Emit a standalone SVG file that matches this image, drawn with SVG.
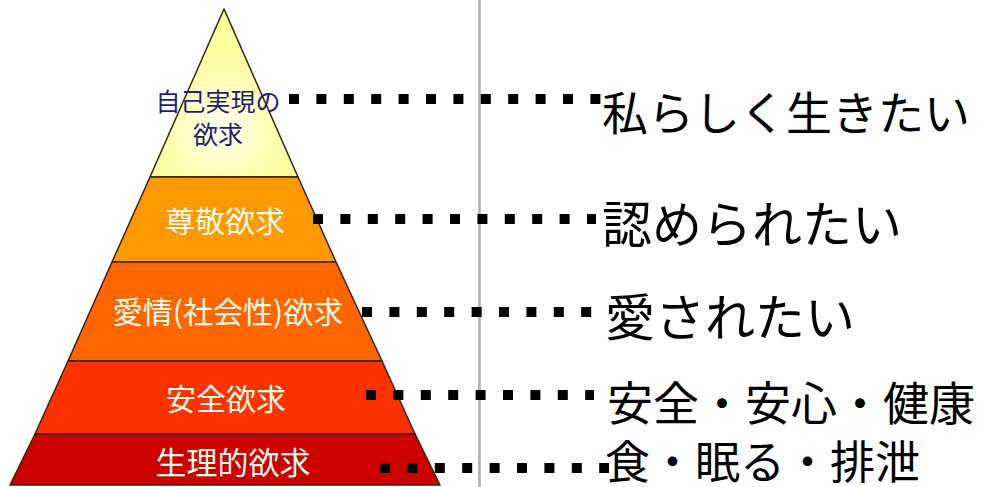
<svg xmlns="http://www.w3.org/2000/svg" width="988" height="487" viewBox="0 0 988 487">
<style>
.tier{stroke:#3a2208;stroke-width:1.5;stroke-linejoin:round}
.lbl{font-family:"Noto Sans CJK JP","Noto Sans",sans-serif;font-size:30px;fill:#FFFBEA;text-anchor:middle;dominant-baseline:central}
.top{font-family:"Noto Sans CJK JP","Noto Sans",sans-serif;font-size:25px;fill:#1E1E70;text-anchor:middle;dominant-baseline:central}
.say{font-family:"Noto Sans CJK JP","Noto Sans",sans-serif;font-size:46px;fill:#000;dominant-baseline:central}
.dot{stroke:#000;stroke-width:10;stroke-dasharray:10 17.4;fill:none}
</style>
<defs>
<radialGradient id="yel" cx="222" cy="128" r="90" gradientUnits="userSpaceOnUse">
<stop offset="0" stop-color="#FFFFF2"/>
<stop offset="0.6" stop-color="#FFFFB0"/>
<stop offset="1" stop-color="#FFFF99"/>
</radialGradient>
</defs>
<rect width="988" height="487" fill="#fff"/>
<line x1="479.5" y1="0" x2="479.5" y2="487" stroke="#ABABAB" stroke-width="2.5"/>
<g id="tier-self">
<polygon class="tier" points="224,9 298,177 150,177" fill="url(#yel)"/>
<text class="top" x="218" y="100">自己実現の</text>
<text class="top" x="218" y="133">欲求</text>
</g>
<g id="tier-esteem">
<polygon class="tier" points="150,177 298,177 336,262 112,262" fill="#FF9900"/>
<text class="lbl" x="225" y="219">尊敬欲求</text>
</g>
<g id="tier-love">
<polygon class="tier" points="112,262 336,262 382,361 68,361" fill="#FF6600"/>
<text class="lbl" x="228" y="310">愛情(社会性)欲求</text>
</g>
<g id="tier-safety">
<polygon class="tier" points="68,361 382,361 415,434 35,434" fill="#FF3300"/>
<text class="lbl" x="226" y="397">安全欲求</text>
</g>
<g id="tier-phys">
<polygon class="tier" points="35,434 415,434 440,485 10,485" fill="#CC0000"/>
<text class="lbl" x="233" y="460" style="font-size:31px">生理的欲求</text>
</g>
<g id="connectors">
<line class="dot" x1="289" y1="99" x2="602" y2="99"/>
<line class="dot" x1="313" y1="219" x2="596" y2="219"/>
<line class="dot" x1="362" y1="312" x2="594" y2="312"/>
<line class="dot" x1="366" y1="395" x2="594" y2="395"/>
<line class="dot" x1="380" y1="468" x2="609" y2="468"/>
</g>
<g id="want-self"><text class="say" x="602" y="110">私らしく生きたい</text></g>
<g id="want-esteem"><text class="say" x="602" y="221" style="font-size:50px">認められたい</text></g>
<g id="want-love"><text class="say" x="605" y="314" style="font-size:50px">愛されたい</text></g>
<g id="want-safety"><text class="say" x="607" y="400">安全・安心・健康</text></g>
<g id="want-phys"><text class="say" x="605" y="459" style="font-size:45px">食・眠る・排泄</text></g>
</svg>
